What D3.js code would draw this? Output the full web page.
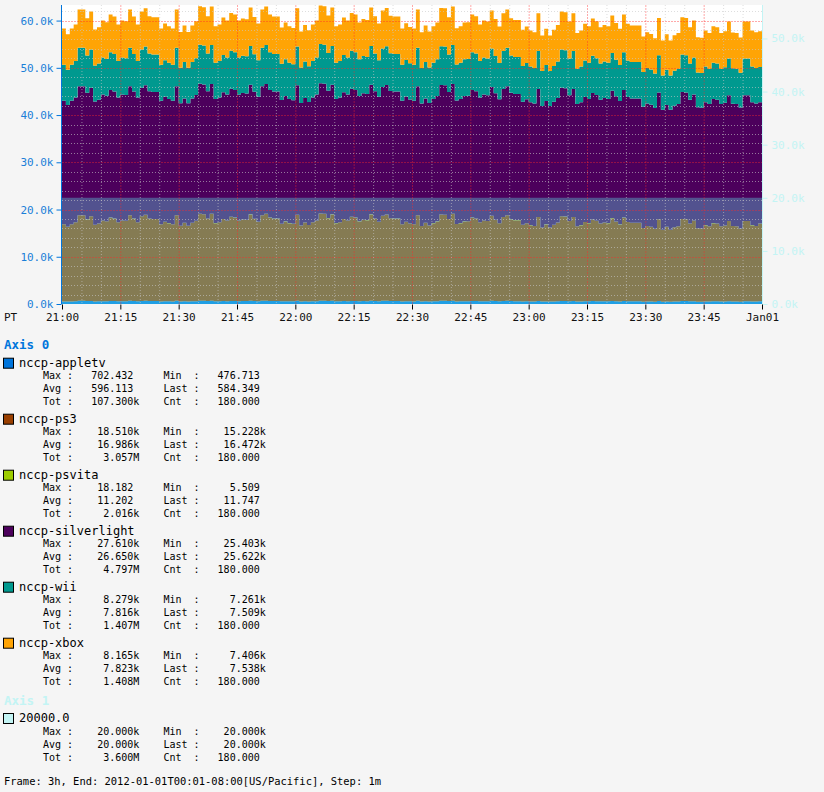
<!DOCTYPE html>
<html><head><meta charset="utf-8">
<script src="https://cdn.jsdelivr.net/npm/d3@7"></script>
<style>
html,body{margin:0;padding:0;background:#f5f5f5;}
svg{display:block;}
text{font-family:'DejaVu Sans Mono','Liberation Mono',monospace;}
</style>
</head><body>
<svg id="chart" width="824" height="792"></svg>
<script>
// ---------- data ----------
const seriesNames = ["nccp-appletv","nccp-ps3","nccp-psvita","nccp-silverlight","nccp-wii","nccp-xbox"];
const seriesColors = ["#0075dc","#993f00","#9dcc00","#4c005c","#00998f","#ffa405"];
const startTime = Date.UTC(2011,11,31,21,0);   // 21:00 PT
const stepMinutes = 1;

// values per minute (appletv, psvita in units; others in thousands)
const appletv = [553,517,553,579,674,674,619,661,547,562,
604,594,642,630,579,604,600,674,630,579,
661,683,632,625,625,553,585,568,553,674,
532,572,532,572,600,695,689,632,693,568,
579,623,604,653,642,604,617,613,687,628,
585,674,693,642,630,630,559,591,568,557,
683,534,576,543,579,604,700,695,636,687,
568,579,623,604,653,642,591,615,608,687,
632,585,668,685,634,630,630,553,587,564,
553,674,530,572,534,568,591,685,683,625,
693,555,568,591,594,642,632,579,604,598,
668,615,566,651,674,619,608,608,545,566,
541,530,651,509,551,509,545,576,661,657,
598,651,526,541,583,568,617,600,562,576,
568,636,589,551,642,583,572,572,572,502,
530,519,492,621,477,517,477,511,526,625,
621,562,604,498,494,541,526,568,562,526,
536,598,528,526,496,598,598,541,530,584];

const ps3K = [16.33,15.81,16.33,16.71,18.09,18.09,17.29,17.91,16.24,16.46,
17.08,16.92,17.63,17.44,16.71,17.08,17.01,18.09,17.44,16.71,
17.91,18.22,17.48,17.38,17.38,16.33,16.80,16.55,16.33,18.09,
16.03,16.61,16.03,16.61,17.01,18.40,18.31,17.48,18.37,16.55,
16.71,17.35,17.08,17.79,17.63,17.08,17.26,17.20,18.28,17.41,
16.80,18.09,18.37,17.63,17.44,17.44,16.43,16.89,16.55,16.40,
18.22,16.06,16.67,16.18,16.71,17.08,18.46,18.40,17.54,18.28,
16.55,16.71,17.35,17.08,17.79,17.63,16.89,17.23,17.14,18.28,
17.48,16.80,18.00,18.24,17.51,17.44,17.44,16.33,16.83,16.49,
16.33,18.09,16.00,16.61,16.06,16.55,16.89,18.24,18.22,17.38,
18.37,16.37,16.55,16.89,16.92,17.63,17.48,16.71,17.08,16.98,
18.00,17.23,16.52,17.75,18.09,17.29,17.14,17.14,16.21,16.52,
16.15,16.00,17.75,15.69,16.30,15.69,16.21,16.67,17.91,17.84,
16.98,17.75,15.93,16.15,16.77,16.55,17.26,17.01,16.46,16.67,
16.55,17.54,16.86,16.30,17.63,16.77,16.61,16.61,16.61,15.60,
16.00,15.84,15.44,17.32,15.23,15.81,15.23,15.72,15.93,17.38,
17.32,16.46,17.08,15.53,15.47,16.15,15.93,16.55,16.46,15.93,
16.09,16.98,15.97,15.93,15.50,16.98,16.98,16.15,16.00,16.47];

const psvita = [10,7.5,10,10.8,16,16,13.5,16,9.3,10,
12.5,11.8,15,14,10.8,12.5,12.5,16,14,10.8,
16,17.5,14,14,14,10,11.8,10.8,10,16,
8.5,10.8,8.5,10.8,12.5,17.5,17.5,14,17.5,10.8,
10.8,13.5,12.5,15,15,12.5,13.5,13.5,17.5,14,
11.8,16,17.5,15,14,14,10,11.8,10.8,10,
17.5,8.5,10.8,9.3,10.8,12.5,18.2,17.5,14,17.5,
10.8,10.8,13.5,12.5,15,15,11.8,13.5,12.5,17.5,
14,11.8,16,17.5,14,14,14,10,11.8,10.8,
10,16,8.5,10.8,8.5,10.8,11.8,17.5,17.5,14,
17.5,10,10.8,11.8,11.8,15,14,10.8,12.5,12.5,
16,13.5,10.8,15,16,13.5,12.5,12.5,9.3,10.8,
9.3,8.5,15,7.5,10,7.5,9.3,10.8,16,15,
12.5,15,8.5,9.3,11.8,10.8,13.5,12.5,10,10.8,
10.8,14,11.8,10,15,11.8,10.8,10.8,10.8,6.5,
8.5,7.5,6.5,13.5,5.5,7.5,5.5,7.5,8.5,14,
13.5,10,12.5,6.5,6.5,9.3,8.5,10.8,10,8.5,
8.5,12.5,8.5,8.5,6.5,12.5,12.5,9.3,8.5,11.7];

const silverlightK = [26.15,25.80,26.15,26.40,27.33,27.33,26.79,27.20,26.09,26.23,
26.65,26.54,27.02,26.89,26.40,26.65,26.60,27.33,26.89,26.40,
27.20,27.41,26.92,26.85,26.85,26.15,26.46,26.29,26.15,27.33,
25.94,26.33,25.94,26.33,26.60,27.54,27.47,26.92,27.52,26.29,
26.40,26.83,26.65,27.12,27.02,26.65,26.77,26.73,27.45,26.87,
26.46,27.33,27.52,27.02,26.89,26.89,26.21,26.52,26.29,26.19,
27.41,25.96,26.37,26.04,26.40,26.65,27.58,27.54,26.96,27.45,
26.29,26.40,26.83,26.65,27.12,27.02,26.52,26.75,26.69,27.45,
26.92,26.46,27.27,27.43,26.94,26.89,26.89,26.15,26.48,26.25,
26.15,27.33,25.92,26.33,25.96,26.29,26.52,27.43,27.41,26.85,
27.52,26.17,26.29,26.52,26.54,27.02,26.92,26.40,26.65,26.58,
27.27,26.75,26.27,27.10,27.33,26.79,26.69,26.69,26.07,26.27,
26.02,25.92,27.10,25.71,26.13,25.71,26.07,26.37,27.20,27.16,
26.58,27.10,25.88,26.02,26.44,26.29,26.77,26.60,26.23,26.37,
26.29,26.96,26.50,26.13,27.02,26.44,26.33,26.33,26.33,25.65,
25.92,25.82,25.55,26.81,25.40,25.80,25.40,25.73,25.88,26.85,
26.81,26.23,26.65,25.61,25.57,26.02,25.88,26.29,26.23,25.88,
25.98,26.58,25.90,25.88,25.59,26.58,26.58,26.02,25.92,25.62];

const wiiK = [7.60,7.44,7.60,7.72,8.15,8.15,7.90,8.09,7.58,7.64,
7.83,7.79,8.01,7.95,7.72,7.83,7.82,8.15,7.95,7.72,
8.09,8.19,7.96,7.93,7.93,7.60,7.75,7.67,7.60,8.15,
7.51,7.69,7.51,7.69,7.82,8.24,8.22,7.96,8.24,7.67,
7.72,7.92,7.83,8.05,8.01,7.83,7.89,7.87,8.21,7.94,
7.75,8.15,8.24,8.01,7.95,7.95,7.63,7.78,7.67,7.62,
8.19,7.52,7.71,7.56,7.72,7.83,8.26,8.24,7.98,8.21,
7.67,7.72,7.92,7.83,8.05,8.01,7.78,7.88,7.85,8.21,
7.96,7.75,8.12,8.20,7.97,7.95,7.95,7.60,7.76,7.65,
7.60,8.15,7.50,7.69,7.52,7.67,7.78,8.20,8.19,7.93,
8.24,7.61,7.67,7.78,7.79,8.01,7.96,7.72,7.83,7.81,
8.12,7.88,7.66,8.04,8.15,7.90,7.85,7.85,7.57,7.66,
7.55,7.50,8.04,7.40,7.60,7.40,7.57,7.71,8.09,8.07,
7.81,8.04,7.48,7.55,7.74,7.67,7.89,7.82,7.64,7.71,
7.67,7.98,7.77,7.60,8.01,7.74,7.69,7.69,7.69,7.38,
7.50,7.45,7.33,7.91,7.26,7.44,7.26,7.41,7.48,7.93,
7.91,7.64,7.83,7.36,7.34,7.55,7.48,7.67,7.64,7.48,
7.53,7.81,7.49,7.48,7.35,7.81,7.81,7.55,7.50,7.51];

const xboxK = [7.66,7.54,7.66,7.75,8.07,8.07,7.88,8.03,7.64,7.69,
7.83,7.80,7.96,7.92,7.75,7.83,7.82,8.07,7.92,7.75,
8.03,8.10,7.93,7.91,7.91,7.66,7.77,7.71,7.66,8.07,
7.59,7.73,7.59,7.73,7.82,8.14,8.12,7.93,8.13,7.71,
7.75,7.90,7.83,8.00,7.96,7.83,7.88,7.86,8.11,7.91,
7.77,8.07,8.13,7.96,7.92,7.92,7.68,7.79,7.71,7.68,
8.10,7.60,7.74,7.63,7.75,7.83,8.15,8.14,7.94,8.11,
7.71,7.75,7.90,7.83,8.00,7.96,7.79,7.87,7.85,8.11,
7.93,7.77,8.05,8.10,7.93,7.92,7.92,7.66,7.78,7.70,
7.66,8.07,7.58,7.73,7.60,7.71,7.79,8.10,8.10,7.91,
8.13,7.67,7.71,7.79,7.80,7.96,7.93,7.75,7.83,7.81,
8.05,7.87,7.71,7.99,8.07,7.88,7.85,7.85,7.63,7.71,
7.62,7.58,7.99,7.51,7.66,7.51,7.63,7.74,8.03,8.01,
7.81,7.99,7.57,7.62,7.76,7.71,7.88,7.82,7.69,7.74,
7.71,7.94,7.78,7.66,7.96,7.76,7.73,7.73,7.73,7.49,
7.58,7.55,7.46,7.89,7.41,7.54,7.41,7.52,7.57,7.91,
7.89,7.69,7.83,7.48,7.46,7.62,7.57,7.71,7.69,7.57,
7.61,7.81,7.58,7.57,7.47,7.81,7.81,7.62,7.58,7.54];

const line1Name = "20000.0";
const line1Value = 20000;

// legend statistics
const statMax  = [702.432, 18510, 18.182, 27610, 8279, 8165];
const statMin  = [476.713, 15228, 5.509, 25403, 7261, 7406];
const statAvg  = [596.113, 16986, 11.202, 26650, 7816, 7823];
const statLast = [584.349, 16472, 11.747, 25622, 7509, 7538];
const statTot  = [107300, 3057000, 2016, 4797000, 1407000, 1408000];
const statCnt  = [180, 180, 180, 180, 180, 180];
const line1Stats = [20000, 20000, 20000, 20000, 3600000, 180]; // max,min,avg,last,tot,cnt

const leftTicks = [0,10000,20000,30000,40000,50000,60000];
const rightTicks = [0,10000,20000,30000,40000,50000];
const xTickLabels = ["21:00","21:15","21:30","21:45","22:00","22:15","22:30","22:45","23:00","23:15","23:30","23:45","Jan01"];
const footerText = "Frame: 3h, End: 2012-01-01T00:01-08:00[US/Pacific], Step: 1m";

// ---------- build ----------
const svg = d3.select("#chart");
svg.append("rect").attr("width",824).attr("height",792).attr("fill","#f5f5f5");

const L = 62, R = 762, T = 5, B = 304;
const n = appletv.length;
const rows = d3.range(n).map(i => ({
  t: new Date(startTime + i*stepMinutes*60000),
  appletv: appletv[i], ps3: ps3K[i]*1000, psvita: psvita[i],
  silverlight: silverlightK[i]*1000, wii: wiiK[i]*1000, xbox: xboxK[i]*1000
}));
// closing point for step rendering
rows.push(Object.assign({}, rows[n-1], {t: new Date(startTime + n*stepMinutes*60000)}));

const endTime = new Date(startTime + n*60000);
const x = d3.scaleUtc().domain([new Date(startTime), endTime]).range([L, R]);
const yL = d3.scaleLinear().domain([0, 63300]).range([B, T]);
const yR = d3.scaleLinear().domain([0, 56300]).range([B, T]);

const keys = ["appletv","ps3","psvita","silverlight","wii","xbox"];
const stacked = d3.stack().keys(keys)(rows);

svg.append("defs").append("clipPath").attr("id","plotclip")
  .append("rect").attr("x",L).attr("y",T).attr("width",R-L).attr("height",B-T);

svg.append("rect").attr("x",L).attr("y",T).attr("width",R-L).attr("height",B-T).attr("fill","#ffffff");

const plot = svg.append("g").attr("clip-path","url(#plotclip)");
const area = d3.area().curve(d3.curveStepAfter)
  .x(d => x(d.data.t)).y0(d => yL(d[0])).y1(d => yL(d[1]));
plot.selectAll("path.s").data(stacked).join("path")
  .attr("class","s").attr("d", area)
  .attr("fill", (d,i) => seriesColors[i]);

// axis 1 constant area (semi-transparent)
const area1 = d3.area().curve(d3.curveStepAfter)
  .x(d => x(d.t)).y0(yR(0)).y1(() => yR(line1Value));
plot.append("path").datum(rows).attr("d", area1).attr("fill","rgba(94,241,242,0.34)");

// grid
const grid = svg.append("g").attr("clip-path","url(#plotclip)");
const minorT = d3.utcMinute.every(5).range(new Date(startTime), endTime);
minorT.forEach(t => {
  const major = t.getUTCMinutes() % 15 === 0;
  if (+t === startTime) return;
  grid.append("line").attr("x1",x(t)+0.5).attr("x2",x(t)+0.5).attr("y1",T).attr("y2",B)
    .attr("stroke", major ? "rgba(255,40,40,0.4)" : "rgba(200,200,200,0.6)")
    .attr("stroke-dasharray", major ? "2,1" : "1,2");
});
d3.range(2000, 63300, 2000).forEach(v => {
  const major = v % 10000 === 0;
  grid.append("line").attr("x1",L).attr("x2",R).attr("y1",Math.round(yL(v))+0.5).attr("y2",Math.round(yL(v))+0.5)
    .attr("stroke", major ? "rgba(255,40,40,0.4)" : "rgba(200,200,200,0.6)")
    .attr("stroke-dasharray", major ? "2,1" : "1,2");
});

// left axis
const fmtK = v => (v/1000).toFixed(1) + "k";
const axL = svg.append("g").attr("transform","translate(61.5,0)")
  .call(d3.axisLeft(yL).tickValues(leftTicks).tickFormat(fmtK).tickSize(5).tickPadding(3));
axL.select(".domain").attr("stroke","#0075dc").attr("d", `M0,${T}V${B}`);
axL.selectAll(".tick line").attr("stroke","#0075dc");
axL.selectAll(".tick text").attr("fill","#1a7fd8").style("font-size","11px").style("font-family","'DejaVu Sans Mono',monospace");

// right axis
const axisCyan = "#c3f4f4";
const axR = svg.append("g").attr("transform","translate(762.5,0)")
  .call(d3.axisRight(yR).tickValues(rightTicks).tickFormat(fmtK).tickSize(5).tickPadding(4));
axR.select(".domain").attr("stroke",axisCyan).attr("d", `M0,${T}V${B}`);
axR.selectAll(".tick line").attr("stroke",axisCyan);
axR.selectAll(".tick text").attr("fill",axisCyan).style("font-size","11px").style("font-family","'DejaVu Sans Mono',monospace");

// bottom axis
const xTickTimes = d3.utcMinute.every(15).range(new Date(startTime), new Date(+endTime+1));
const axB = svg.append("g").attr("transform",`translate(0,${B+0.5})`)
  .call(d3.axisBottom(x).tickValues(xTickTimes).tickFormat((d,i) => xTickLabels[i]).tickSize(5).tickPadding(4));
axB.select(".domain").remove();
axB.selectAll(".tick line").attr("stroke","#000");
axB.selectAll(".tick text").attr("fill","#111").style("font-size","11px").style("font-family","'DejaVu Sans Mono',monospace");
svg.append("text").attr("x",4).attr("y",320.5).text("PT").attr("fill","#111").style("font-size","11px");

// ---------- legend ----------
function fmtStat(v) {
  const a = Math.abs(v);
  if (a >= 1e6) return [(v/1e6).toFixed(3), "M"];
  if (a >= 1e3) return [(v/1e3).toFixed(3), "k"];
  return [v.toFixed(3), " "];
}
function statLine(l1, v1, l2, v2) {
  const a = fmtStat(v1), b = fmtStat(v2);
  return l1 + " " + a[0].padStart(9) + a[1] + "    " + l2 + " " + b[0].padStart(9) + b[1];
}
function legendEntry(y, name, swatch, stats) {
  svg.append("rect").attr("x",3.5).attr("y",y-8.5).attr("width",10).attr("height",10)
    .attr("fill",swatch).attr("stroke","#000").attr("stroke-width",1);
  svg.append("text").attr("x",19).attr("y",y).text(name).attr("fill","#000").style("font-size","12px");
  const lines = [statLine("Max :", stats[0], "Min  :", stats[1]),
                 statLine("Avg :", stats[2], "Last :", stats[3]),
                 statLine("Tot :", stats[4], "Cnt  :", stats[5])];
  lines.forEach((s, k) => {
    svg.append("text").attr("x",43).attr("y", y + 12.5 + 13*k).text(s)
      .attr("xml:space","preserve").style("white-space","pre")
      .attr("fill","#000").style("font-size","10px");
  });
}
svg.append("text").attr("x",4).attr("y",349).text("Axis 0").attr("fill","#0075dc")
  .style("font-size","12.5px").style("font-weight","bold");
seriesNames.forEach((nm, i) => {
  legendEntry(366.7 + 56*i, nm, seriesColors[i],
    [statMax[i], statMin[i], statAvg[i], statLast[i], statTot[i], statCnt[i]]);
});
svg.append("text").attr("x",4).attr("y",704.5).text("Axis 1").attr("fill",axisCyan)
  .style("font-size","12.5px").style("font-weight","bold");
legendEntry(722, line1Name, "#c3f4f4", line1Stats);

svg.append("text").attr("x",4).attr("y",785).text(footerText)
  .attr("fill","#000").style("font-size","10.45px");
</script>
</body></html>
